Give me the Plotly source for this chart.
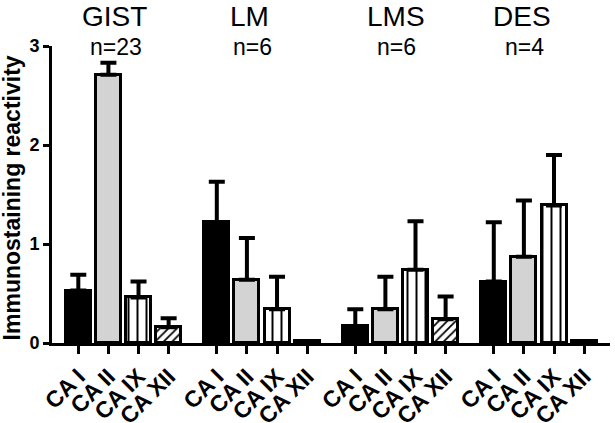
import plotly.graph_objects as go

groups = ["GIST", "LM", "LMS", "DES"]
group_n = ["n=23", "n=6", "n=6", "n=4"]
enzymes = ["CA I", "CA II", "CA IX", "CA XII"]

# mean immunostaining reactivity per enzyme, ordered GIST, LM, LMS, DES
ca1_mean = [0.53, 1.22, 0.17, 0.62]
ca2_mean = [2.71, 0.64, 0.34, 0.87]
ca9_mean = [0.46, 0.34, 0.74, 1.39]
ca12_mean = [0.16, 0.02, 0.24, 0.02]

# upper error (SEM)
ca1_err = [0.16, 0.41, 0.17, 0.60]
ca2_err = [0.12, 0.42, 0.33, 0.57]
ca9_err = [0.16, 0.33, 0.49, 0.51]
ca12_err = [0.09, 0.0, 0.23, 0.0]

y_ticks = [0, 1, 2, 3]

GROUP_STEP = 4.6
BAR_W = 0.83

means = [ca1_mean, ca2_mean, ca9_mean, ca12_mean]
errs = [ca1_err, ca2_err, ca9_err, ca12_err]

styles = [
    dict(color="black", pattern=None),
    dict(color="#d3d3d3", pattern=None),
    dict(color="white", pattern=dict(shape="|", fgcolor="black", bgcolor="white", size=9, solidity=0.22, fillmode="replace")),
    dict(color="white", pattern=dict(shape="/", fgcolor="black", bgcolor="white", size=6, solidity=0.3, fillmode="replace")),
]

FONT = "Liberation Sans, Arial"

fig = go.Figure()
tickvals, ticktext = [], []
for j, name in enumerate(enzymes):
    xs = [g * GROUP_STEP + j for g in range(len(groups))]
    marker = dict(color=styles[j]["color"], line=dict(color="black", width=3))
    if styles[j]["pattern"] is not None:
        marker["pattern"] = styles[j]["pattern"]
    fig.add_trace(go.Bar(
        x=xs, y=means[j], width=BAR_W, name=name, marker=marker,
        error_y=dict(type="data", symmetric=False, array=errs[j],
                     arrayminus=[0] * len(groups), color="black",
                     thickness=4, width=8),
        showlegend=False, hoverinfo="skip",
    ))
for g in range(len(groups)):
    for j, name in enumerate(enzymes):
        tickvals.append(g * GROUP_STEP + j)
        ticktext.append(name)

title_x = [1.19, 5.70, 10.56, 14.74]
n_x = [1.24, 5.77, 10.56, 14.83]
for g in range(len(groups)):
    fig.add_annotation(x=title_x[g], y=1.10, xref="x", yref="paper", text=groups[g],
                       showarrow=False, font=dict(family=FONT, size=28, color="black"),
                       xanchor="center", yanchor="middle")
    fig.add_annotation(x=n_x[g], y=0.995, xref="x", yref="paper", text=group_n[g],
                       showarrow=False, font=dict(family=FONT, size=23, color="black"),
                       xanchor="center", yanchor="middle")

fig.add_annotation(x=-0.070, y=0.49, xref="paper", yref="paper",
                   text="<b>Immunostaining reactivity</b>", textangle=-90, showarrow=False,
                   font=dict(family=FONT, size=23, color="black"),
                   xanchor="center", yanchor="middle")

fig.update_layout(
    width=615, height=423,
    margin=dict(l=52, r=5, t=46, b=80, autoexpand=False),
    plot_bgcolor="white", paper_bgcolor="white",
    barmode="overlay",
    bargap=0,
)
fig.update_xaxes(
    range=[-0.874, 17.66], tickmode="array", tickvals=tickvals, ticktext=ticktext,
    tickangle=-45, ticks="outside", ticklen=8, tickwidth=3, tickcolor="black",
    showline=True, linewidth=3, linecolor="black", showgrid=False, zeroline=False,
    automargin=False,
    tickfont=dict(family=FONT, size=23, color="black", weight="bold"),
)
fig.update_yaxes(
    range=[0, 3], tickmode="array", tickvals=y_ticks, ticktext=[str(v) for v in y_ticks],
    ticks="outside", ticklen=6, tickwidth=3, tickcolor="black",
    showline=True, linewidth=3, linecolor="black", showgrid=False, zeroline=False,
    automargin=False,
    tickfont=dict(family=FONT, size=18, color="black", weight="bold"),
)

fig.write_html("out.html", config={"displayModeBar": False},
               post_script="document.body.style.margin='0';")
